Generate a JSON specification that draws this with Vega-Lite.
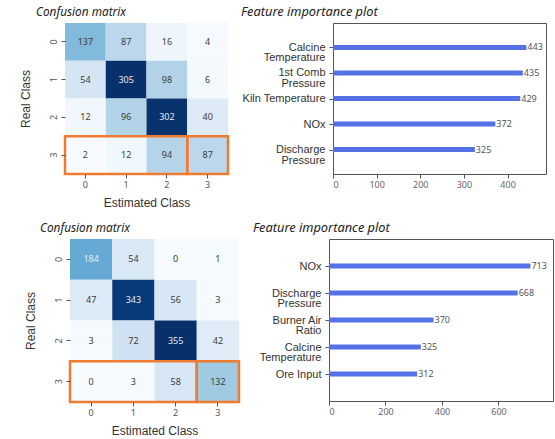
{
  "$schema": "https://vega.github.io/schema/vega-lite/v6.json",
  "padding": {"left": 19, "top": 5, "right": 2, "bottom": 2},
  "background": "white",
  "config": {
    "view": {"stroke": null},
    "font": "Noto Sans",
    "axis": {
      "labelFont": "Noto Sans",
      "labelFontSize": 9,
      "labelColor": "#555",
      "titleFont": "Liberation Sans",
      "titleFontSize": 12,
      "titleFontWeight": "normal",
      "titleColor": "#333",
      "tickColor": "#555",
      "tickSize": 4,
      "grid": false,
      "domain": false
    },
    "title": {
      "font": "Noto Sans",
      "fontStyle": "italic",
      "fontWeight": "normal",
      "fontSize": 12.5,
      "color": "#222",
      "anchor": "start",
      "frame": "group",
      "offset": 4
    }
  },
  "datasets": {
    "cm_a": [
      {"real": 0, "est": 0, "count": 137}, {"real": 0, "est": 1, "count": 87}, {"real": 0, "est": 2, "count": 16}, {"real": 0, "est": 3, "count": 4},
      {"real": 1, "est": 0, "count": 54}, {"real": 1, "est": 1, "count": 305}, {"real": 1, "est": 2, "count": 98}, {"real": 1, "est": 3, "count": 6},
      {"real": 2, "est": 0, "count": 12}, {"real": 2, "est": 1, "count": 96}, {"real": 2, "est": 2, "count": 302}, {"real": 2, "est": 3, "count": 40},
      {"real": 3, "est": 0, "count": 2}, {"real": 3, "est": 1, "count": 12}, {"real": 3, "est": 2, "count": 94}, {"real": 3, "est": 3, "count": 87}
    ],
    "cm_b": [
      {"real": 0, "est": 0, "count": 184}, {"real": 0, "est": 1, "count": 54}, {"real": 0, "est": 2, "count": 0}, {"real": 0, "est": 3, "count": 1},
      {"real": 1, "est": 0, "count": 47}, {"real": 1, "est": 1, "count": 343}, {"real": 1, "est": 2, "count": 56}, {"real": 1, "est": 3, "count": 3},
      {"real": 2, "est": 0, "count": 3}, {"real": 2, "est": 1, "count": 72}, {"real": 2, "est": 2, "count": 355}, {"real": 2, "est": 3, "count": 42},
      {"real": 3, "est": 0, "count": 0}, {"real": 3, "est": 1, "count": 3}, {"real": 3, "est": 2, "count": 58}, {"real": 3, "est": 3, "count": 132}
    ],
    "highlight": [
      {"real": 3, "from": 0, "to": 2},
      {"real": 3, "from": 3, "to": 3}
    ],
    "fi_a": [
      {"feature": "Calcine\nTemperature", "importance": 443},
      {"feature": "1st Comb\nPressure", "importance": 435},
      {"feature": "Kiln Temperature", "importance": 429},
      {"feature": "NOx", "importance": 372},
      {"feature": "Discharge\nPressure", "importance": 325}
    ],
    "fi_b": [
      {"feature": "NOx", "importance": 713},
      {"feature": "Discharge\nPressure", "importance": 668},
      {"feature": "Burner Air\nRatio", "importance": 370},
      {"feature": "Calcine\nTemperature", "importance": 325},
      {"feature": "Ore Input", "importance": 312}
    ]
  },
  "resolve": {"scale": {"color": "independent"}},
  "vconcat": [
    {
      "spacing": 10,
      "resolve": {"scale": {"color": "independent"}},
      "hconcat": [
        {
          "width": 163,
          "height": 151,
          "title": {"text": "Confusion matrix", "dx": -29, "fontSize": 11.8},
          "encoding": {
            "x": {"field": "est", "type": "ordinal", "scale": {"paddingInner": 0, "paddingOuter": 0},
                  "axis": {"title": "Estimated Class", "labelAngle": 0, "labelPadding": 2, "titlePadding": 8}},
            "y": {"field": "real", "type": "ordinal", "scale": {"paddingInner": 0, "paddingOuter": 0},
                  "axis": {"title": "Real Class", "labelAngle": -90, "labelPadding": 3, "titlePadding": 17}}
          },
          "layer": [
            {
              "data": {"name": "cm_a"},
              "mark": {"type": "rect"},
              "encoding": {
                "color": {"field": "count", "type": "quantitative", "legend": null,
                          "scale": {"domain": [2, 39.875, 77.75, 115.625, 153.5, 191.375, 229.25, 267.125, 305], "nice": false, "interpolate": "rgb",
                                    "range": ["#f7fbff", "#deebf7", "#c6dbef", "#9ecae1", "#6baed6", "#4292c6", "#2171b5", "#08519c", "#08306b"]}}
              }
            },
            {
              "data": {"name": "cm_a"},
              "mark": {"type": "text", "fontSize": 9, "font": "Noto Sans"},
              "encoding": {
                "text": {"field": "count", "type": "quantitative"},
                "color": {"condition": {"test": "datum.count > 150", "value": "#e4e9f0"}, "value": "#3c3c3c"}
              }
            },
            {
              "data": {"name": "highlight"},
              "mark": {"type": "rect", "fill": null, "stroke": "#ee7b30", "strokeWidth": 2.5},
              "encoding": {
                "x": {"field": "from", "type": "ordinal", "bandPosition": 0},
                "x2": {"field": "to", "bandPosition": 1}
              }
            }
          ]
        },
        {
          "width": 213,
          "height": 151,
          "view": {"stroke": "#555", "strokeWidth": 1},
          "title": {"text": "Feature importance plot", "dx": -92, "fontSize": 12.8},
          "data": {"name": "fi_a"},
          "encoding": {
            "y": {"field": "feature", "type": "nominal", "sort": null,
                  "scale": {"type": "point", "padding": 0.96},
                  "axis": {"title": null, "labelFont": "Liberation Sans", "labelFontSize": 11, "labelColor": "#333",
                           "labelLineHeight": 10.5, "labelPadding": 4, "labelExpr": "split(datum.label, '\\n')"}},
            "x": {"field": "importance", "type": "quantitative",
                  "scale": {"domain": [0, 488], "nice": false},
                  "axis": {"title": null, "values": [0, 100, 200, 300, 400], "labelColor": "#666", "labelPadding": 2}}
          },
          "layer": [
            {
              "mark": {"type": "rule", "strokeWidth": 5, "color": "#5472e6"},
              "encoding": {"x2": {"datum": 0}}
            },
            {
              "mark": {"type": "text", "align": "left", "dx": 1, "fontSize": 9, "color": "#555"},
              "encoding": {"text": {"field": "importance", "type": "quantitative"}}
            }
          ]
        }
      ]
    },
    {
      "spacing": 11,
      "resolve": {"scale": {"color": "independent"}},
      "hconcat": [
        {
          "width": 174,
          "height": 163,
          "title": {"text": "Confusion matrix", "dx": -25, "fontSize": 11.8},
          "encoding": {
            "x": {"field": "est", "type": "ordinal", "scale": {"paddingInner": 0, "paddingOuter": 0, "range": [5, 174]},
                  "axis": {"title": "Estimated Class", "labelAngle": 0, "labelPadding": 2, "titlePadding": 8}},
            "y": {"field": "real", "type": "ordinal", "scale": {"paddingInner": 0, "paddingOuter": 0},
                  "axis": {"title": "Real Class", "labelAngle": -90, "labelPadding": 3, "titlePadding": 17, "offset": -5}}
          },
          "layer": [
            {
              "data": {"name": "cm_b"},
              "mark": {"type": "rect"},
              "encoding": {
                "color": {"field": "count", "type": "quantitative", "legend": null,
                          "scale": {"domain": [0, 44.375, 88.75, 133.125, 177.5, 221.875, 266.25, 310.625, 355], "nice": false, "interpolate": "rgb",
                                    "range": ["#f7fbff", "#deebf7", "#c6dbef", "#9ecae1", "#6baed6", "#4292c6", "#2171b5", "#08519c", "#08306b"]}}
              }
            },
            {
              "data": {"name": "cm_b"},
              "mark": {"type": "text", "fontSize": 9, "font": "Noto Sans"},
              "encoding": {
                "text": {"field": "count", "type": "quantitative"},
                "color": {"condition": {"test": "datum.count > 150", "value": "#e4e9f0"}, "value": "#3c3c3c"}
              }
            },
            {
              "data": {"name": "highlight"},
              "mark": {"type": "rect", "fill": null, "stroke": "#ee7b30", "strokeWidth": 2.5},
              "encoding": {
                "x": {"field": "from", "type": "ordinal", "bandPosition": 0},
                "x2": {"field": "to", "bandPosition": 1}
              }
            }
          ]
        },
        {
          "width": 224,
          "height": 162,
          "view": {"stroke": "#555", "strokeWidth": 1},
          "title": {"text": "Feature importance plot", "dx": -76, "fontSize": 12.8},
          "data": {"name": "fi_b"},
          "encoding": {
            "y": {"field": "feature", "type": "nominal", "sort": null,
                  "scale": {"type": "point", "padding": 1.0},
                  "axis": {"title": null, "labelFont": "Liberation Sans", "labelFontSize": 11, "labelColor": "#333",
                           "labelLineHeight": 10.5, "labelPadding": 4, "labelExpr": "split(datum.label, '\\n')"}},
            "x": {"field": "importance", "type": "quantitative",
                  "scale": {"domain": [0, 793], "nice": false},
                  "axis": {"title": null, "values": [0, 200, 400, 600], "labelColor": "#666", "labelPadding": 2}}
          },
          "layer": [
            {
              "mark": {"type": "rule", "strokeWidth": 5, "color": "#5472e6"},
              "encoding": {"x2": {"datum": 0}}
            },
            {
              "mark": {"type": "text", "align": "left", "dx": 1, "fontSize": 9, "color": "#555"},
              "encoding": {"text": {"field": "importance", "type": "quantitative"}}
            }
          ]
        }
      ]
    }
  ],
  "spacing": 13
}
